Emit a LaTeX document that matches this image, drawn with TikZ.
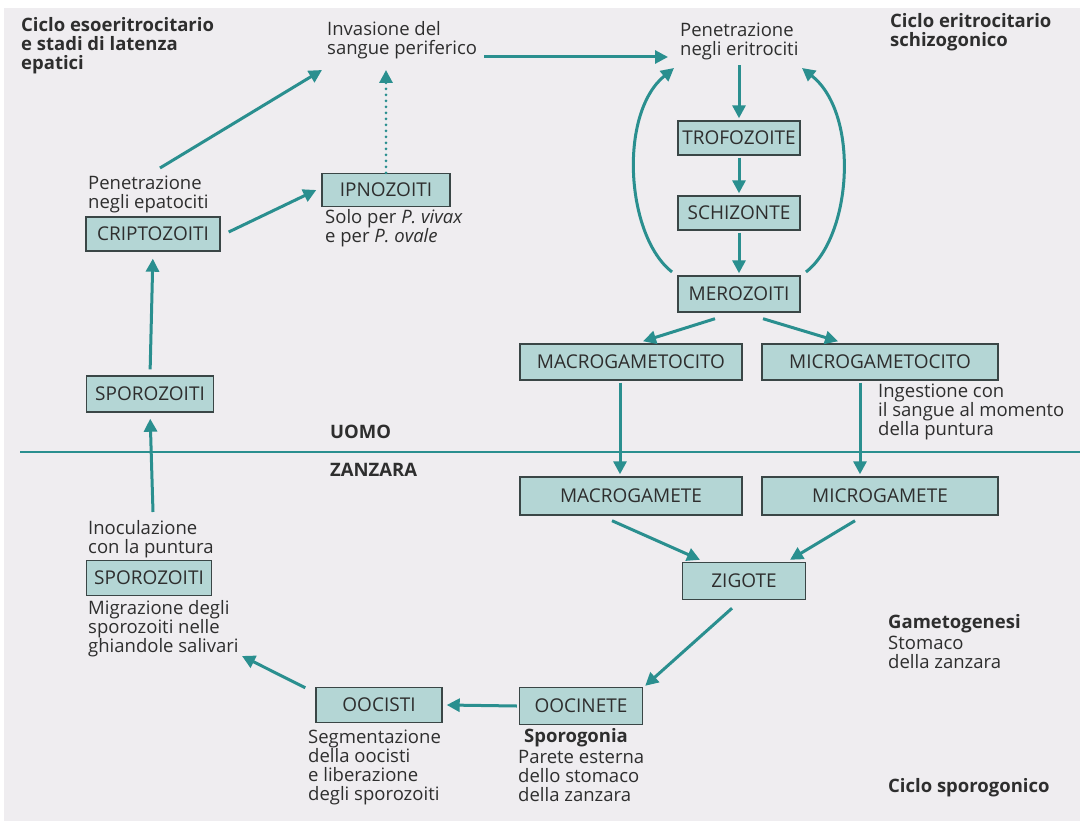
\documentclass[tikz,border=0pt]{standalone}
\usepackage{fontspec}
\setmainfont{Open Sans}
\usetikzlibrary{arrows.meta}
\definecolor{tealA}{HTML}{2A8F8F}
\definecolor{boxfill}{HTML}{B4D6D5}
\definecolor{boxline}{HTML}{3A4646}
\definecolor{bgc}{HTML}{EFEDF0}
\definecolor{txt}{HTML}{2E2E2E}
\begin{document}
\begin{tikzpicture}[x=1pt,y=-1pt,
  boxn/.style={draw=boxline, line width=1.4pt, fill=boxfill, minimum height=34pt, inner sep=0pt, text=txt, font=\fontsize{19}{20}\selectfont},
  lab/.style={align=left, inner sep=0pt, anchor=north west, text=txt, font=\fontsize{18.5}{19}\selectfont},
  blab/.style={lab, font=\fontsize{18.5}{19}\selectfont\bfseries},
  arr/.style={draw=tealA, line width=3pt, -{Triangle[length=13pt,width=13pt]}},
  dotarr/.style={draw=tealA, line width=3pt, line cap=round, dash pattern=on 0pt off 6pt, -{Triangle[length=13pt,width=13pt]}}
]
\useasboundingbox (0,0) rectangle (1086,821);
\fill[white] (0,0) rectangle (1086,821);
\fill[bgc] (4,8) rectangle (1080,821);

% boxes
\node[boxn, minimum width=134pt] (cripto) at (153,234) {CRIPTOZOITI};
\node[boxn, minimum width=128pt, minimum height=33pt] (ipno) at (386,190) {IPNOZOITI};
\node[boxn, minimum width=122pt] (trofo) at (739,138) {TROFOZOITE};
\node[boxn, minimum width=122pt] (schizo) at (739,213) {SCHIZONTE};
\node[boxn, minimum width=122pt, minimum height=36pt] (mero) at (739,294) {MEROZOITI};
\node[boxn, minimum width=222pt, minimum height=36pt] (macrocito) at (631,362) {MACROGAMETOCITO};
\node[boxn, minimum width=236pt, minimum height=36pt] (microcito) at (880,362) {MICROGAMETOCITO};
\node[boxn, minimum width=222pt, minimum height=38pt] (macrogam) at (631,496) {MACROGAMETE};
\node[boxn, minimum width=236pt, minimum height=38pt] (microgam) at (880,496) {MICROGAMETE};
\node[boxn, minimum width=123pt, minimum height=37pt] (zigote) at (744,581) {ZIGOTE};
\node[boxn, minimum width=123pt, minimum height=37pt] (oocinete) at (581,706) {OOCINETE};
\node[boxn, minimum width=126pt, minimum height=35pt] (oocisti) at (379,705) {OOCISTI};
\node[boxn, minimum width=127pt, minimum height=36pt] (sporoA) at (150,394) {SPOROZOITI};
\node[boxn, minimum width=125pt, minimum height=35pt] (sporoB) at (149,578) {SPOROZOITI};

% labels
\node[blab] (tit1) at (21,17) {Ciclo esoeritrocitario\\e stadi di latenza\\epatici};
\node[lab] (invas) at (327,21) {Invasione del\\sangue periferico};
\node[lab] (peneri) at (680,23) {Penetrazione\\negli eritrociti};
\node[blab] (tit2) at (890,13) {Ciclo eritrocitario\\schizogonico};
\node[lab] (penepa) at (88,176) {Penetrazione\\negli epatociti};
\node[lab] (solo) at (325,209) {Solo per \textit{P. vivax}\\e per \textit{P. ovale}};
\node[lab] (inges) at (878,384) {Ingestione con\\il sangue al momento\\della puntura};
\node[blab, anchor=west] (uomo) at (330,432) {UOMO};
\node[blab, anchor=west] (zanz) at (330,470) {ZANZARA};
\node[lab] (inoc) at (88,520) {Inoculazione\\con la puntura};
\node[lab] (migr) at (88,600) {Migrazione degli\\sporozoiti nelle\\ghiandole salivari};
\node[blab] (gameto) at (888,614) {Gametogenesi};
\node[lab] (stom) at (888,636) {Stomaco\\della zanzara};
\node[lab] (segm) at (308,730) {Segmentazione\\della oocisti\\e liberazione\\degli sporozoiti};
\node[blab] (sporog) at (524,728) {Sporogonia};
\node[lab] (parete) at (518,750) {Parete esterna\\dello stomaco\\della zanzara};
\node[blab] (cicspo) at (888,778) {Ciclo sporogonico};

% divider
\coordinate (divL) at (20,452);
\coordinate (divR) at (1080,452);
\draw[tealA, line width=1.3pt] (divL) -- (divR);

% free-end coordinates
\coordinate (a1s) at (160,168);
\coordinate (a1e) at (322,70);
\coordinate (hs) at (484,57);
\coordinate (he) at (668,57);
\coordinate (ipTop) at (386,70);
\coordinate (inocTop) at (153,512);
\coordinate (cL) at (672,272);
\coordinate (cLe) at (674,68);
\coordinate (cR) at (806,272);
\coordinate (cRe) at (802,68);
\coordinate (migrEnd) at (242,656);

% arrows
\draw[arr] (a1s) -- (a1e);
\draw[arr] (hs) -- (he);
\draw[dotarr] (ipno.north) -- (ipTop);
\draw[arr] ([xshift=8pt,yshift=2pt]cripto.east) -- ([xshift=-5pt]ipno.west);
\draw[arr, shorten <=6pt, shorten >=7pt] (sporoA.north) -- (cripto.south);
\draw[arr, shorten >=6pt] (inocTop) -- (sporoA.south);
\draw[arr, shorten <=5pt, shorten >=2pt] (trofo.north |- peneri.south) -- (trofo.north);
\draw[arr, shorten <=2pt, shorten >=2pt] (trofo.south) -- (schizo.north);
\draw[arr, shorten <=2pt, shorten >=2pt] (schizo.south) -- (mero.north);
\draw[arr] (cL) .. controls (626,236) and (618,114) .. (cLe);
\draw[arr] (cR) .. controls (852,236) and (860,114) .. (cRe);
\draw[arr] ([xshift=-24pt,yshift=-6pt]mero.south) -- ([xshift=12pt,yshift=2pt]macrocito.north);
\draw[arr] ([xshift=24pt,yshift=-6pt]mero.south) -- ([xshift=-42pt,yshift=2pt]microcito.north);
\draw[arr] ([xshift=-11pt,yshift=-2pt]macrocito.south) -- ([xshift=-11pt,yshift=2pt]macrogam.north);
\draw[arr] ([xshift=-20pt,yshift=-2pt]microcito.south) -- ([xshift=-20pt,yshift=2pt]microgam.north);
\draw[arr] ([xshift=-19pt,yshift=-5pt]macrogam.south) -- ([xshift=-44pt,yshift=2pt]zigote.north);
\draw[arr] ([xshift=-25pt,yshift=-5pt]microgam.south) -- ([xshift=46pt,yshift=2pt]zigote.north);
\draw[arr] ([xshift=-12pt,yshift=-8pt]zigote.south) -- ([xshift=2pt,yshift=1pt]oocinete.north east);
\draw[arr] ([xshift=-2pt]oocinete.west) -- ([xshift=4pt]oocisti.east);
\draw[arr] ([xshift=-10pt,yshift=-1pt]oocisti.north west) -- (migrEnd);
\end{tikzpicture}
\end{document}
